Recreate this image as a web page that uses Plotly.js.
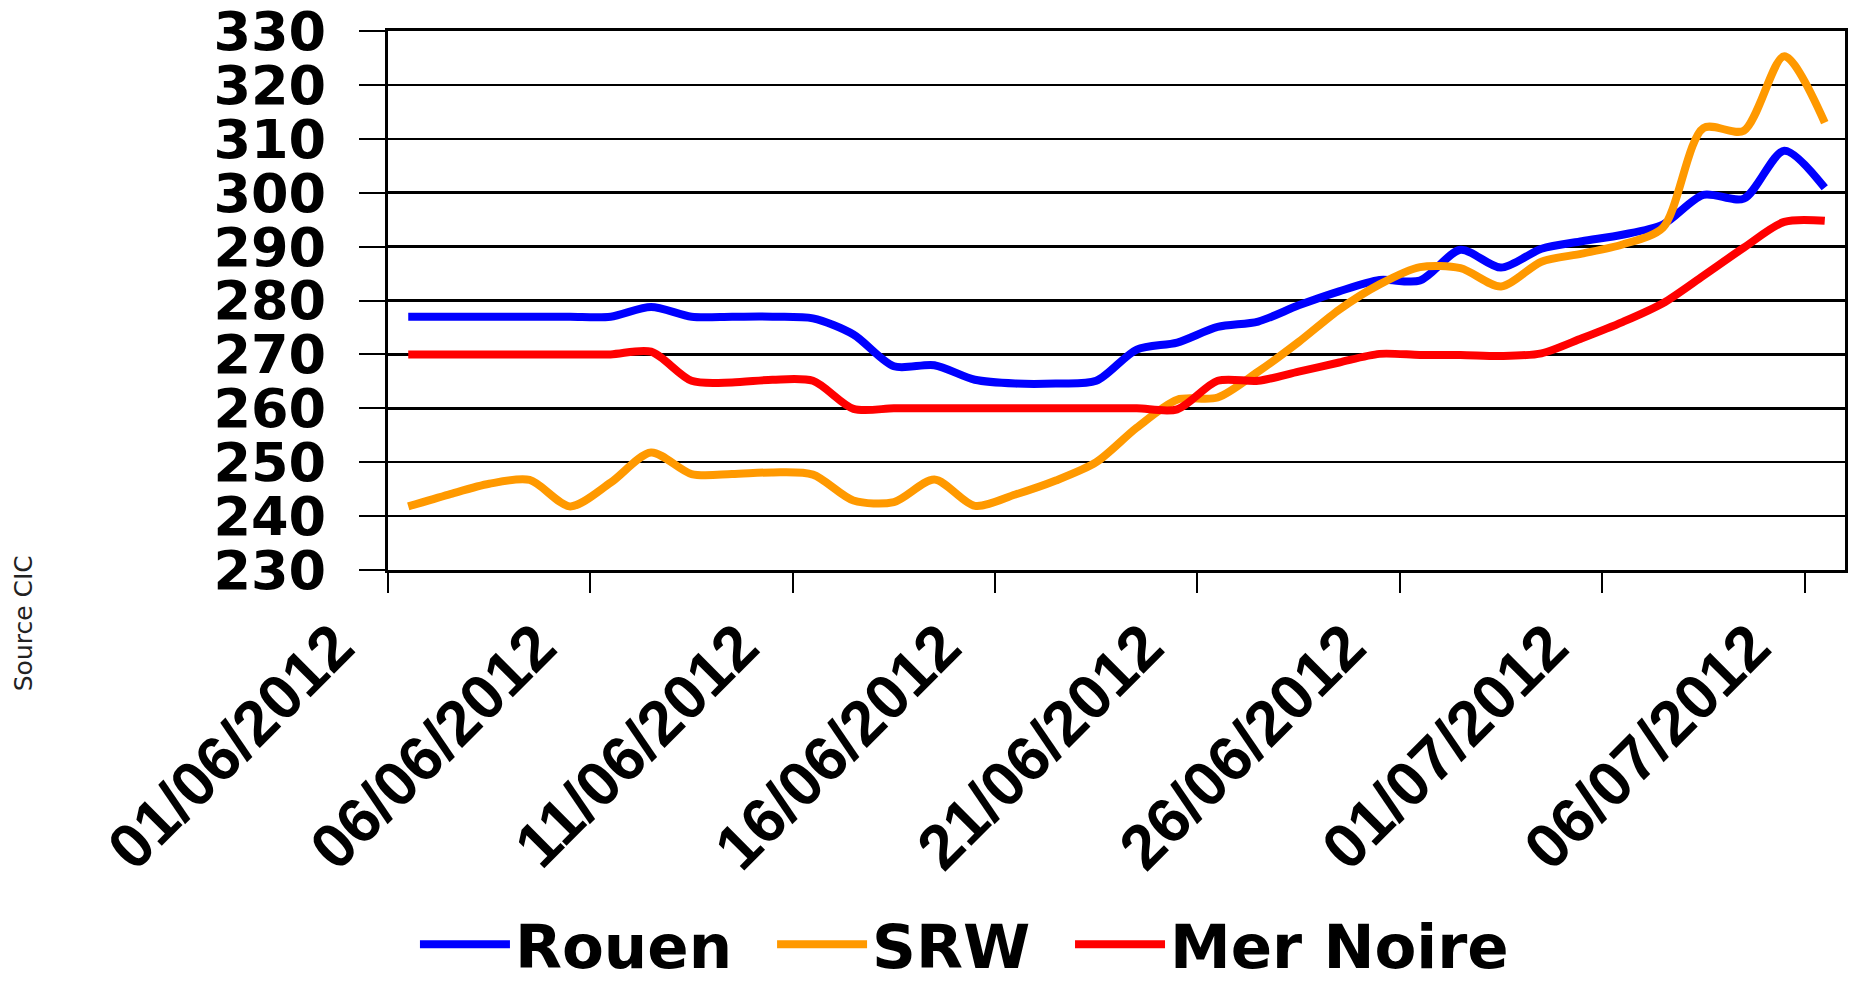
<!DOCTYPE html>
<html>
<head>
<meta charset="utf-8">
<script src="https://cdn.plot.ly/plotly-3.0.1.min.js"></script>
<style>
html, body { margin: 0; padding: 0; background: #ffffff; }
#chart { width: 1854px; height: 985px; }
</style>
</head>
<body>
<div id="chart"></div>
<script>
// ---- Data (daily values, EUR/t) ----
const dates = [
  '2012-06-01','2012-06-02','2012-06-03','2012-06-04','2012-06-05','2012-06-06',
  '2012-06-07','2012-06-08','2012-06-09','2012-06-10','2012-06-11','2012-06-12',
  '2012-06-13','2012-06-14','2012-06-15','2012-06-16','2012-06-17','2012-06-18',
  '2012-06-19','2012-06-20','2012-06-21','2012-06-22','2012-06-23','2012-06-24',
  '2012-06-25','2012-06-26','2012-06-27','2012-06-28','2012-06-29','2012-06-30',
  '2012-07-01','2012-07-02','2012-07-03','2012-07-04','2012-07-05','2012-07-06'
];

const rouen = [
  277, 277, 277, 277, 277, 277,
  278.8, 277, 277, 277, 276.7, 273.7,
  267.8, 268.0, 265.3, 264.6, 264.6, 265.1,
  270.9, 272.2, 275.1, 276.1, 279.1, 281.7,
  283.8, 283.7, 289.4, 286.1, 289.6, 291.0,
  292.2, 294.1, 299.6, 298.9, 307.8, 300.9
];

const srw = [
  241.8, 244.0, 246.0, 246.7, 241.8, 246.2,
  251.8, 247.8, 247.8, 248.1, 247.7, 242.9,
  242.6, 246.8, 241.9, 244.0, 246.6, 250.0,
  256.4, 261.6, 262.0, 266.8, 272.3, 278.3,
  283.0, 286.2, 286.0, 282.6, 287.2, 288.7,
  290.4, 293.5, 312.0, 311.5, 325.3, 313.0
];

const merNoire = [
  270, 270, 270, 270, 270, 270.0,
  270.5, 265.1, 264.8, 265.3, 265.1, 259.9,
  260.0, 260, 260, 260, 260, 260,
  260, 259.8, 265.1, 265.1, 266.8, 268.5,
  270.1, 269.9, 269.9, 269.7, 270.2, 273.0,
  276.0, 279.5, 284.6, 289.8, 294.6, 294.8
];

const seriesNames = ['Rouen', 'SRW', 'Mer Noire'];
const seriesColors = ['#0000FF', '#FF9900', '#FF0000'];

const tickDates = ['2012-06-01','2012-06-06','2012-06-11','2012-06-16','2012-06-21','2012-06-26','2012-07-01','2012-07-06'];
const tickLabels = ['01/06/2012','06/06/2012','11/06/2012','16/06/2012','21/06/2012','26/06/2012','01/07/2012','06/07/2012'];

const yTicks = [230, 240, 250, 260, 270, 280, 290, 300, 310, 320, 330];

// ---- Build the chart ----
const HALF_DAY = 12 * 3600 * 1000;
function toMs(s) {
  const p = s.split('-').map(Number);
  return Date.UTC(p[0], p[1] - 1, p[2]);
}
// Excel-style date axis: ticks sit between days (day bands)
const tickVals = tickDates.map(d => toMs(d) - HALF_DAY);
const xRange = [toMs(dates[0]) - HALF_DAY, toMs(dates[dates.length - 1]) + HALF_DAY];

const legendIds = ['legend', 'legend2', 'legend3'];
const values = [rouen, srw, merNoire];
const traces = values.map((v, i) => ({
  type: 'scatter',
  mode: 'lines',
  x: dates,
  y: v,
  name: seriesNames[i],
  legend: legendIds[i],
  line: { color: seriesColors[i], width: 8, shape: 'spline', smoothing: 0.8 },
  hoverinfo: 'skip'
}));

const boldFont = (size, fam) => ({ family: fam || 'DejaVu Sans', size: size, color: '#000000', weight: 'bold' });

const legendX = [0.0185, 0.2636, 0.4681];
function makeLegend(x) {
  return {
    orientation: 'h',
    x: x, xanchor: 'left',
    y: -0.695, yanchor: 'middle',
    font: boldFont(61),
    itemwidth: 90,
    bgcolor: 'rgba(0,0,0,0)',
    borderwidth: 0
  };
}

const layout = {
  width: 1854,
  height: 985,
  paper_bgcolor: '#ffffff',
  plot_bgcolor: '#ffffff',
  margin: { l: 388, r: 9, t: 31, b: 415, pad: 0, autoexpand: false },
  showlegend: true,
  legend: makeLegend(legendX[0]),
  legend2: makeLegend(legendX[1]),
  legend3: makeLegend(legendX[2]),
  xaxis: {
    type: 'date',
    range: xRange,
    tickmode: 'array',
    tickvals: tickVals,
    ticktext: tickLabels,
    tickangle: -45,
    tickfont: boldFont(63, 'Liberation Sans'),
    ticks: 'outside',
    ticklen: 20,
    tickwidth: 2,
    tickcolor: '#000000',
    ticklabelstandoff: -9,
    ticklabelshift: -53,
    ticklabeloverflow: 'allow',
    showgrid: false,
    zeroline: false,
    showline: true,
    linecolor: '#000000',
    linewidth: 3,
    mirror: true,
    fixedrange: true
  },
  yaxis: {
    range: [230, 330],
    tickmode: 'array',
    tickvals: yTicks,
    ticktext: yTicks.map(String),
    tickfont: boldFont(54),
    ticks: 'outside',
    ticklen: 26,
    tickwidth: 2,
    tickcolor: '#000000',
    ticklabelstandoff: 22,
    ticklabeloverflow: 'allow',
    showgrid: true,
    gridcolor: '#000000',
    gridwidth: 2.5,
    zeroline: false,
    showline: true,
    linecolor: '#000000',
    linewidth: 3,
    mirror: true,
    fixedrange: true
  },
  annotations: [{
    text: 'Source CIC',
    xref: 'paper', yref: 'paper',
    x: -0.2502, y: -0.098,
    xanchor: 'center', yanchor: 'middle',
    textangle: -90,
    showarrow: false,
    font: { family: 'DejaVu Sans', size: 25, color: '#222222' }
  }]
};

Plotly.newPlot('chart', traces, layout, { staticPlot: true, displayModeBar: false, responsive: false });
</script>
</body>
</html>
